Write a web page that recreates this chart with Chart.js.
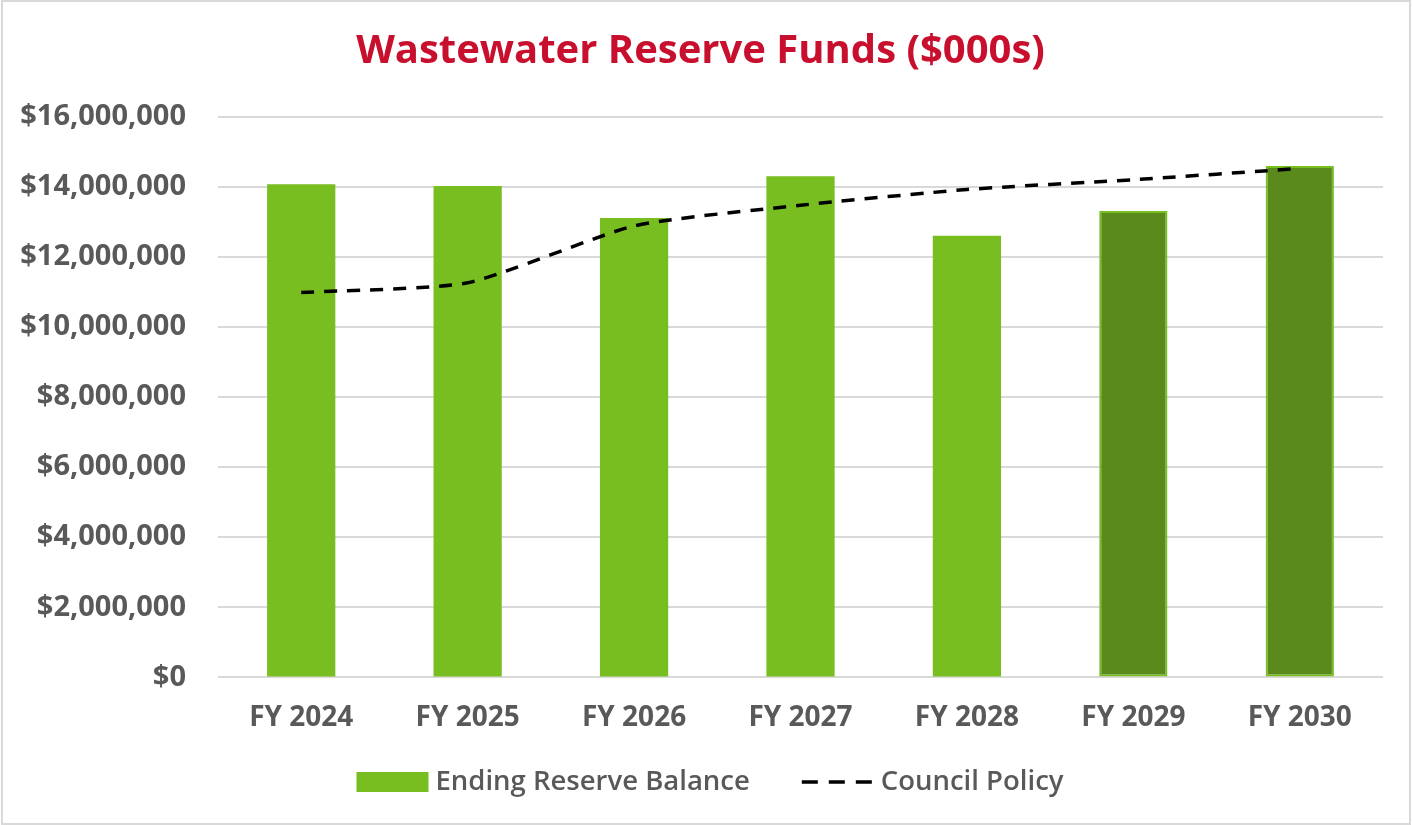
<!DOCTYPE html>
<html>
<head>
<meta charset="utf-8">
<script src="https://cdn.jsdelivr.net/npm/chart.js@4.4.1/dist/chart.umd.min.js"></script>
<style>
  html, body { margin: 0; padding: 0; background: #ffffff; }
  #wrap { width: 1412px; height: 825px; position: relative; }
</style>
</head>
<body>
<div id="wrap"><canvas id="c" width="1412" height="825"></canvas></div>
<script>
const categories = ['FY 2024', 'FY 2025', 'FY 2026', 'FY 2027', 'FY 2028', 'FY 2029', 'FY 2030'];
const reserveBalance = [14070000, 14020000, 13110000, 14300000, 12600000, 13310000, 14590000];
const councilPolicy = [10980000, 11260000, 12880000, 13470000, 13920000, 14200000, 14520000];
const projectedFlags = [false, false, false, false, false, true, true];
const seriesNames = ['Ending Reserve Balance', 'Council Policy'];
const chartTitle = 'Wastewater Reserve Funds ($000s)';

const LIGHT = '#78BE20';
const DARK = '#5A8A1C';
const TEXT = '#595959';
const FONT = "'Open Sans', sans-serif";
const DASH = [13, 10];

const frame = {
  id: 'frame',
  beforeDraw(chart) {
    const ctx = chart.ctx;
    ctx.save();
    ctx.fillStyle = '#ffffff';
    ctx.fillRect(0, 0, chart.width, chart.height);
    ctx.strokeStyle = '#d9d9d9';
    ctx.lineWidth = 2;
    ctx.strokeRect(2, 1, chart.width - 4, chart.height - 2);
    ctx.restore();
  }
};

const customLegend = {
  id: 'customLegend',
  afterDraw(chart) {
    const ctx = chart.ctx;
    ctx.save();
    ctx.font = "600 27.5px " + FONT;
    const boxW = 72, boxH = 20, gap = 7, spacing = 52;
    const w1 = ctx.measureText(seriesNames[0]).width;
    const w2 = ctx.measureText(seriesNames[1]).width;
    const total = boxW + gap + w1 + spacing + boxW + gap + w2;
    let x = (chart.width - total) / 2 + 4;
    const y = 782;
    ctx.fillStyle = LIGHT;
    ctx.fillRect(x, y - boxH / 2, boxW, boxH);
    x += boxW + gap;
    ctx.fillStyle = TEXT;
    ctx.textBaseline = 'middle';
    ctx.textAlign = 'left';
    ctx.fillText(seriesNames[0], x, y);
    x += w1 + spacing;
    ctx.strokeStyle = '#000000';
    ctx.lineWidth = 3.5;
    ctx.setLineDash([16, 11]);
    ctx.beginPath();
    ctx.moveTo(x, y);
    ctx.lineTo(x + boxW, y);
    ctx.stroke();
    ctx.setLineDash([]);
    x += boxW + gap;
    ctx.fillText(seriesNames[1], x, y);
    ctx.restore();
  }
};

new Chart(document.getElementById('c'), {
  data: {
    labels: categories,
    datasets: [
      {
        type: 'line',
        label: seriesNames[1],
        data: councilPolicy,
        borderColor: '#000000',
        borderWidth: 3.5,
        borderDash: DASH,
        borderCapStyle: 'butt',
        tension: 0.2,
        pointRadius: 0,
        fill: false,
        order: 0
      },
      {
        type: 'bar',
        label: seriesNames[0],
        data: reserveBalance,
        backgroundColor: projectedFlags.map(p => p ? DARK : LIGHT),
        borderColor: LIGHT,
        borderWidth: projectedFlags.map(p => p ? 2 : 0),
        borderSkipped: false,
        barPercentage: 0.41,
        categoryPercentage: 1.0,
        order: 1
      }
    ]
  },
  options: {
    responsive: false,
    animation: false,
    layout: { padding: { left: 18, right: 29, top: 12, bottom: 66 } },
    plugins: {
      legend: { display: false },
      tooltip: { enabled: false },
      title: {
        display: true,
        text: chartTitle,
        color: '#C8102E',
        font: { family: FONT, size: 40, weight: 'bold' },
        padding: { top: 16, bottom: 40.6 }
      }
    },
    scales: {
      x: {
        grid: { display: false, drawTicks: false },
        border: { display: false },
        ticks: {
          color: TEXT,
          padding: 24,
          font: { family: FONT, size: 28, weight: 'bold' }
        }
      },
      y: {
        min: 0,
        max: 16000000,
        afterFit(scale) { scale.width = 200; },
        grid: { color: '#d9d9d9', lineWidth: 2, drawTicks: false },
        border: { display: false },
        ticks: {
          stepSize: 2000000,
          color: TEXT,
          padding: 32,
          font: { family: FONT, size: 29, weight: 'bold' },
          callback: v => '$' + Number(v).toLocaleString('en-US')
        }
      }
    }
  },
  plugins: [frame, customLegend]
});
</script>
</body>
</html>
